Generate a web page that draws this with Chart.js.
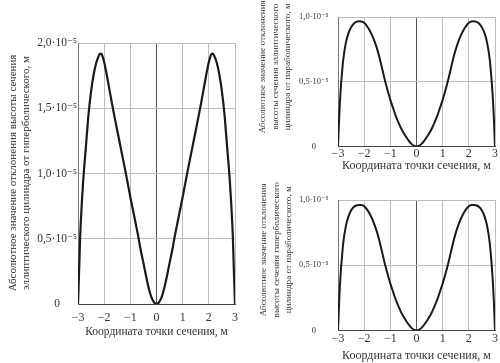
<!DOCTYPE html>
<html>
<head>
<meta charset="utf-8">
<script src="https://cdn.jsdelivr.net/npm/chart.js@4.4.1/dist/chart.umd.min.js"></script>
<style>
  html, body { margin: 0; padding: 0; background: #fff; }
  #wrap { position: relative; width: 500px; height: 363px; overflow: hidden; }
  canvas { position: absolute; }
  .ytitle { position: absolute; font-family: "Liberation Serif", "DejaVu Serif", serif; color: #333;
            text-align: center; white-space: nowrap; transform: rotate(-90deg); transform-origin: 50% 50%; }
</style>
</head>
<body>
<div id="wrap">
  <canvas id="c1" width="250" height="363" style="left:0;top:0;width:250px;height:363px"></canvas>
  <canvas id="c2" width="250" height="180" style="left:250px;top:0;width:250px;height:180px"></canvas>
  <canvas id="c3" width="250" height="183" style="left:250px;top:180px;width:250px;height:183px"></canvas>
</div>
<script>
// ---------- DATA (y values in units of 10^-5 m) ----------
const xLeft = [-3, -2.97, -2.95, -2.92, -2.9, -2.85, -2.8, -2.75, -2.7, -2.6, -2.5, -2.4, -2.3, -2.2, -2.15, -2.1, -2.05, -2.0, -1.9, -1.8, -1.7, -1.6, -1.5, -1.4, -1.3, -1.2, -1.1, -1.0, -0.9, -0.8, -0.7, -0.6, -0.5, -0.4, -0.3, -0.2, -0.1, 0,
               0.1, 0.2, 0.3, 0.4, 0.5, 0.6, 0.7, 0.8, 0.9, 1.0, 1.1, 1.2, 1.3, 1.4, 1.5, 1.6, 1.7, 1.8, 1.9, 2.0, 2.05, 2.1, 2.15, 2.2, 2.3, 2.4, 2.5, 2.6, 2.7, 2.75, 2.8, 2.85, 2.9, 2.92, 2.95, 2.97, 3];
const yLeft = [0, 0.18, 0.3, 0.5, 0.6, 0.79, 0.95, 1.08, 1.2, 1.45, 1.63, 1.76, 1.85, 1.905, 1.918, 1.915, 1.89, 1.855, 1.755, 1.645, 1.535, 1.43, 1.33, 1.23, 1.13, 1.03, 0.925, 0.82, 0.72, 0.62, 0.52, 0.41, 0.315, 0.215, 0.125, 0.055, 0.014, 0,
               0.014, 0.055, 0.125, 0.215, 0.315, 0.41, 0.52, 0.62, 0.72, 0.82, 0.925, 1.03, 1.13, 1.23, 1.33, 1.43, 1.535, 1.645, 1.755, 1.855, 1.89, 1.915, 1.918, 1.905, 1.85, 1.76, 1.63, 1.45, 1.2, 1.08, 0.95, 0.79, 0.6, 0.5, 0.3, 0.18, 0];

const xRight = [-3, -2.95, -2.9, -2.85, -2.8, -2.7, -2.6, -2.5, -2.4, -2.3, -2.2, -2.1, -2.0, -1.9, -1.8, -1.7, -1.6, -1.5, -1.4, -1.3, -1.2, -1.1, -1.0, -0.9, -0.8, -0.7, -0.6, -0.5, -0.4, -0.3, -0.2, -0.1, 0,
                0.1, 0.2, 0.3, 0.4, 0.5, 0.6, 0.7, 0.8, 0.9, 1.0, 1.1, 1.2, 1.3, 1.4, 1.5, 1.6, 1.7, 1.8, 1.9, 2.0, 2.1, 2.2, 2.3, 2.4, 2.5, 2.6, 2.7, 2.8, 2.85, 2.9, 2.95, 3];
const yTopRight = [0, 0.25, 0.43, 0.56, 0.67, 0.80, 0.875, 0.92, 0.948, 0.962, 0.967, 0.965, 0.955, 0.932, 0.90, 0.86, 0.81, 0.75, 0.675, 0.59, 0.505, 0.43, 0.36, 0.30, 0.24, 0.19, 0.145, 0.107, 0.075, 0.046, 0.022, 0.006, 0,
                   0.006, 0.022, 0.046, 0.075, 0.107, 0.145, 0.19, 0.24, 0.30, 0.36, 0.43, 0.505, 0.59, 0.675, 0.75, 0.81, 0.86, 0.90, 0.932, 0.955, 0.965, 0.967, 0.962, 0.948, 0.92, 0.875, 0.80, 0.67, 0.56, 0.43, 0.25, 0];
const yBottomRight = [0, 0.25, 0.43, 0.56, 0.67, 0.80, 0.875, 0.92, 0.946, 0.958, 0.962, 0.961, 0.951, 0.93, 0.898, 0.858, 0.808, 0.748, 0.673, 0.588, 0.503, 0.43, 0.36, 0.30, 0.24, 0.19, 0.145, 0.107, 0.075, 0.046, 0.022, 0.006, 0,
                      0.006, 0.022, 0.046, 0.075, 0.107, 0.145, 0.19, 0.24, 0.30, 0.36, 0.43, 0.503, 0.588, 0.673, 0.748, 0.808, 0.858, 0.898, 0.93, 0.951, 0.961, 0.962, 0.958, 0.946, 0.92, 0.875, 0.80, 0.67, 0.56, 0.43, 0.25, 0];

const xTickLabels = ['\u22123', '\u22122', '\u22121', '0', '1', '2', '3'];
const yTickLabelsLeft = ['0', '0,5\u00b710\u207b\u2075', '1,0\u00b710\u207b\u2075', '1,5\u00b710\u207b\u2075', '2,0\u00b710\u207b\u2075'];
const yTickLabelsRight = ['0', '0,5\u00b710\u207b\u2075', '1,0\u00b710\u207b\u2075'];
const xTitle = 'Координата точки сечения, м';
const yTitleLeft = ['Абсолютное значение отклонения высоты сечения', 'эллиптического цилиндра от гиперболического, м'];
const yTitleTopRight = ['Абсолютное значение отклонения', 'высоты сечения эллиптического', 'цилиндра от параболического, м'];
const yTitleBottomRight = ['Абсолютное значение отклонения', 'высоты сечения гиперболического', 'цилиндра от параболического, м'];

// ---------- CHARTS ----------
const FONT = '"Liberation Serif", "DejaVu Serif", serif';

function makeChart(id, xs, ys, yMax, yLabels, cfg) {
  const pts = xs.map((x, i) => ({x: x, y: ys[i]}));
  return new Chart(document.getElementById(id), {
    type: 'line',
    data: { datasets: [{ data: pts, borderColor: '#1a1a1a', borderWidth: cfg.lw, pointRadius: 0,
                         cubicInterpolationMode: 'monotone', fill: false }] },
    options: {
      responsive: false, animation: false, events: [],
      layout: { padding: { left: 0, right: cfg.padR, top: cfg.padT, bottom: 0 } },
      plugins: { legend: { display: false }, tooltip: { enabled: false } },
      scales: {
        x: {
          type: 'linear', min: -3, max: 3,
          afterFit: s => { s.height = cfg.xH; },
          ticks: { stepSize: 1, color: '#333', padding: cfg.xTickPad, maxRotation: 0,
                   font: { family: FONT, size: cfg.xTickSize },
                   callback: (v, i) => xTickLabels[i] },
          grid: { drawTicks: false, lineWidth: 1,
                  color: c => (c.tick && c.tick.value === 0) ? '#555' : '#bdbdbd' },
          border: { color: '#444', width: 1 },
          title: { display: true, text: xTitle, color: '#333', padding: { top: 0, bottom: cfg.xTitlePad },
                   font: { family: FONT, size: cfg.xTitleSize } }
        },
        y: {
          min: 0, max: yMax,
          afterFit: s => { s.width = cfg.yW; },
          ticks: { stepSize: 0.5, color: '#333', padding: cfg.yTickPad, crossAlign: 'center',
                   font: { family: FONT, size: cfg.yTickSize },
                   callback: (v, i) => yLabels[i] },
          grid: { drawTicks: false, lineWidth: 1, color: '#bdbdbd' },
          border: { color: '#777', width: 1 }
        }
      }
    }
  });
}

makeChart('c1', xLeft, yLeft, 2, yTickLabelsLeft,
  { lw: 2.2, padR: 15, padT: 43, xH: 59, yW: 78, xTickPad: 7, xTickSize: 12, xTitlePad: 24, xTitleSize: 11.5,
    yTickPad: 1, yTickSize: 11.5 });
makeChart('c2', xRight, yTopRight, 1, yTickLabelsRight,
  { lw: 2, padR: 5, padT: 17, xH: 33.5, yW: 88, xTickPad: 0, xTickSize: 12, xTitlePad: 7, xTitleSize: 12,
    yTickPad: 9.5, yTickSize: 8.5 });
makeChart('c3', xRight, yBottomRight, 1, yTickLabelsRight,
  { lw: 2, padR: 5, padT: 20, xH: 32.5, yW: 88, xTickPad: 1, xTickSize: 12, xTitlePad: 0, xTitleSize: 12,
    yTickPad: 9.5, yTickSize: 8.5 });

// ---------- rotated y titles (HTML text) ----------
function yTitle(lines, cx, cy, size, lh) {
  const d = document.createElement('div');
  d.className = 'ytitle';
  const W = 300, H = lines.length * lh;
  d.style.width = W + 'px'; d.style.height = H + 'px';
  d.style.left = (cx - W / 2) + 'px'; d.style.top = (cy - H / 2) + 'px';
  d.style.fontSize = size + 'px'; d.style.lineHeight = lh + 'px';
  d.innerHTML = lines.map(t => '<div>' + t + '</div>').join('');
  document.getElementById('wrap').appendChild(d);
}
yTitle(yTitleLeft, 18.5, 173, 11, 13);
yTitle(yTitleTopRight, 274.5, 67, 9.2, 12.5);
yTitle(yTitleBottomRight, 275.5, 250, 9.2, 12.5);
</script>
</body>
</html>
